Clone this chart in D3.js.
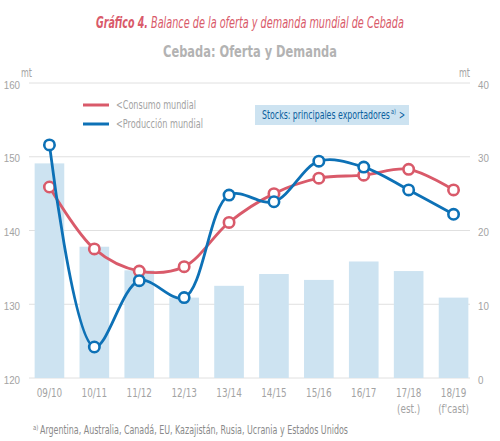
<!DOCTYPE html>
<html>
<head>
<meta charset="utf-8">
<script src="https://cdn.jsdelivr.net/npm/d3@7"></script>
<style>
  body { margin: 0; background: #fff; }
  svg { display: block; font-family: "DejaVu Sans Condensed", "DejaVu Sans", sans-serif; font-stretch: condensed; }
</style>
</head>
<body>
<svg width="500" height="441"></svg>
<script>
const seasons = ["09/10", "10/11", "11/12", "12/13", "13/14", "14/15", "15/16", "16/17", "17/18", "18/19"];
const seasonNotes = ["", "", "", "", "", "", "", "", "(est.)", "(f'cast)"];
const consumo = [145.9, 137.5, 134.5, 135.1, 141.1, 145.0, 147.1, 147.5, 148.3, 145.5];
const produccion = [151.6, 124.2, 133.2, 130.9, 144.8, 143.9, 149.4, 148.6, 145.5, 142.2];
const stocks = [29.1, 17.8, 14.6, 10.9, 12.5, 14.1, 13.3, 15.8, 14.5, 10.9];
const leftTicks = [120, 130, 140, 150, 160];
const rightTicks = [0, 10, 20, 30, 40];

const red = "#d95a6a", blue = "#0d71b6", barFill = "#cde3f1", gray = "#a3a3a3";

const svg = d3.select("svg");

// the reference uses a condensed face; squeeze each text horizontally
function fit(sel, w) {
    const len = sel.node().getComputedTextLength();
    const x0 = +sel.attr("x") || 0, y0 = +sel.attr("y") || 0;
    sel.attr("x", 0).attr("y", 0)
        .attr("transform", `translate(${x0},${y0}) scale(${w / len},1)`);
    return sel;
}
function label(x0, y0, size, color, txt, w) {
    const t = svg.append("text").attr("x", x0).attr("y", y0)
        .attr("font-size", size).attr("fill", color).text(txt);
    return w ? fit(t, w) : t;
}

const x = d3.scaleBand().domain(seasons).range([27, 476]).paddingInner(0.34).paddingOuter(0.17);
const yL = d3.scaleLinear().domain([120, 160]).range([378, 83]);
const yR = d3.scaleLinear().domain([0, 40]).range([378, 83]);

// titles
fit(label(96, 28, 15.5, red, "Gráfico 4.").attr("font-style", "italic").attr("font-weight", "bold"), 52);
fit(label(151, 28, 15.5, red, "Balance de la oferta y demanda mundial de Cebada").attr("font-style", "italic"), 253);
fit(label(163, 57, 16, "#b3b3b3", "Cebada: Oferta y Demanda").attr("font-weight", "bold"), 174);

// gridlines
svg.append("g")
    .selectAll("line")
    .data(leftTicks)
    .join("line")
    .attr("x1", 29).attr("x2", 470)
    .attr("y1", d => yL(d)).attr("y2", d => yL(d))
    .attr("stroke", "#e0e0e0");

// bars
svg.append("g")
    .selectAll("rect")
    .data(stocks)
    .join("rect")
    .attr("x", (d, i) => x(seasons[i]))
    .attr("width", x.bandwidth())
    .attr("y", d => yR(d))
    .attr("height", d => yR(0) - yR(d))
    .attr("fill", barFill);

// axes
const axisLeft = svg.append("g")
    .attr("transform", "translate(20,0)")
    .call(d3.axisLeft(yL).tickValues(leftTicks).tickSize(0).tickPadding(0));
const axisRight = svg.append("g")
    .attr("transform", "translate(478,0)")
    .call(d3.axisRight(yR).tickValues(rightTicks).tickSize(0).tickPadding(0));
[axisLeft, axisRight].forEach(a => {
    a.select(".domain").remove();
    a.selectAll("text")
        .attr("fill", gray).attr("font-size", 11.5).attr("font-family", null)
        .attr("x", 0).attr("dy", "0.45em")
        .attr("transform", "scale(0.85,1)");
});

label(21, 77, 11.5, gray, "mt", 11);
label(459, 77, 11.5, gray, "mt", 11);

// x labels
const cx = (d, i) => x(seasons[i]) + x.bandwidth() / 2;
[[seasons, 397], [seasonNotes, 413]].forEach(([txt, yy]) => {
    svg.append("g").selectAll("text")
        .data(txt)
        .join("text")
        .attr("transform", (d, i) => `translate(${cx(d, i)},${yy}) scale(0.82,1)`)
        .attr("text-anchor", "middle")
        .attr("fill", gray)
        .attr("font-size", 12)
        .text(d => d);
});

// lines
const line = d3.line().x(cx).y(d => yL(d)).curve(d3.curveCatmullRom.alpha(0.5));

[[consumo, red], [produccion, blue]].forEach(([vals, col]) => {
    svg.append("path")
        .datum(vals)
        .attr("d", line)
        .attr("fill", "none")
        .attr("stroke", col)
        .attr("stroke-width", 2.8);
    svg.append("g")
        .selectAll("circle")
        .data(vals)
        .join("circle")
        .attr("cx", cx)
        .attr("cy", d => yL(d))
        .attr("r", 5.2)
        .attr("fill", "#fff")
        .attr("stroke", col)
        .attr("stroke-width", 2.6);
});

// legend
const legend = [["<Consumo mundial", red, 80], ["<Producción mundial", blue, 87]];
legend.forEach(([txt, col, w], i) => {
    const ly = 105 + i * 19;
    svg.append("line").attr("x1", 83).attr("x2", 109).attr("y1", ly).attr("y2", ly)
        .attr("stroke", col).attr("stroke-width", 3);
    label(116, ly + 4, 12, gray, txt, w);
});

// stocks label box
const stockBlue = "#0a5f9e";
svg.append("rect").attr("x", 255).attr("y", 105).attr("width", 154).attr("height", 20).attr("fill", barFill);
label(262, 119, 12, stockBlue, "Stocks: principales exportadores", 128);
label(391, 114, 7, stockBlue, "a)", 5);
label(399, 119, 12, stockBlue, ">", 6);

// footnote
label(33, 430, 7, "#8a8a8a", "a)", 5.5);
label(40, 434, 11.5, "#8a8a8a", "Argentina, Australia, Canadá, EU, Kazajistán, Rusia, Ucrania y Estados Unidos", 308);
</script>
</body>
</html>
